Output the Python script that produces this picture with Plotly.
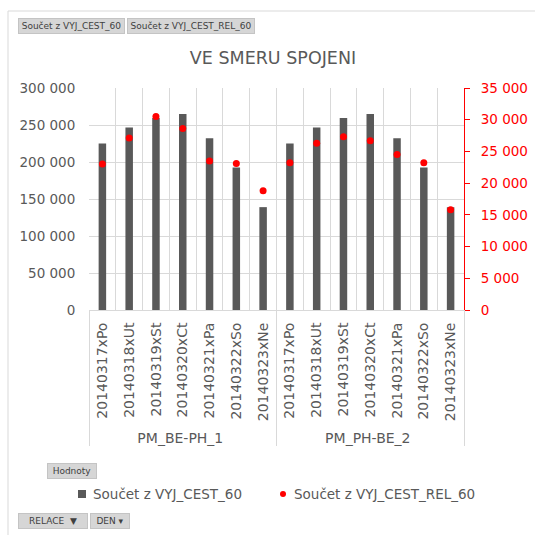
import plotly.graph_objects as go

groups = ["PM_BE-PH_1"] * 7 + ["PM_PH-BE_2"] * 7
days = ["20140317xPo", "20140318xUt", "20140319xSt", "20140320xCt",
        "20140321xPa", "20140322xSo", "20140323xNe"] * 2
cest_60 = [225000, 246500, 259500, 265000, 232000, 192500, 139000,
           225000, 246500, 259500, 265000, 232000, 192500, 139000]
cest_rel_60 = [23000, 27100, 30500, 28600, 23500, 23100, 18800,
               23200, 26300, 27300, 26700, 24500, 23200, 15800]
series_names = ["Součet z VYJ_CEST_60", "Součet z VYJ_CEST_REL_60"]

L, R, T, B = 89, 71, 88, 225
W = H = 535
PW = W - L - R
PH = H - T - B


def px(x):
    return (x - L) / PW


def py(y):
    return (H - B - y) / PH


FONT = "DejaVu Sans, sans-serif"
GRAY = "#595959"
BAR = "#595959"
RED = "#ff0000"

fig = go.Figure()
fig.add_trace(go.Bar(
    x=[groups, days], y=cest_60, name=series_names[0],
    marker=dict(color=BAR, line=dict(width=0)),
))
fig.add_trace(go.Scatter(
    x=[groups, days], y=cest_rel_60, name=series_names[1],
    mode="markers", marker=dict(color=RED, size=7), yaxis="y2",
))

fig.update_layout(
    width=W, height=H,
    margin=dict(l=L, r=R, t=T, b=B, autoexpand=False),
    paper_bgcolor="white", plot_bgcolor="white",
    font=dict(family=FONT, color=GRAY, size=13),
    separators=", ",
    bargap=0.72,
    showlegend=False,
    title=dict(text="VE SMERU SPOJENI", xref="container", x=273 / W,
               xanchor="center", yref="container", y=1 - 58 / H,
               yanchor="middle",
               font=dict(size=17.5, color=GRAY, family=FONT)),
    xaxis=dict(type="multicategory", tickson="boundaries", showgrid=True,
               range=[-0.5, len(days) - 0.5],
               gridcolor="#d9d9d9", gridwidth=1, ticks="", tickangle=-90,
               tickfont=dict(size=14, color=GRAY), showline=True,
               linecolor="#d9d9d9", dividercolor="#d9d9d9", dividerwidth=1,
               ticklabelstandoff=6),
    yaxis=dict(range=[0, 300000], dtick=50000, tickformat=",d",
               showgrid=True, gridcolor="#d9d9d9", zeroline=False,
               tickfont=dict(size=13.5, color=GRAY), ticks="outside",
               ticklen=10, tickcolor="rgba(0,0,0,0)"),
    yaxis2=dict(range=[0, 35000], dtick=5000, tickformat=",d", overlaying="y",
                side="right", showgrid=False, zeroline=False, showline=True,
                linecolor=RED, linewidth=1, ticks="outside", ticklen=5,
                tickcolor=RED, tickfont=dict(size=13.5, color=RED),
                ticklabelstandoff=8),
)

# outer chart border
fig.add_shape(type="rect", xref="paper", yref="paper",
              x0=px(8), y0=py(545), x1=px(545), y1=py(11),
              line=dict(color="#d9d9d9", width=1), fillcolor="rgba(0,0,0,0)",
              layer="below")

# legend (manual, to match the original spacing)
fig.add_shape(type="rect", xref="paper", yref="paper",
              x0=px(78), x1=px(86), y0=py(498), y1=py(490),
              line=dict(width=0), fillcolor=BAR)
fig.add_shape(type="circle", xref="paper", yref="paper",
              x0=px(280), x1=px(286), y0=py(497), y1=py(491),
              line=dict(width=0), fillcolor=RED)
for txt, x0 in [(series_names[0], 91), (series_names[1], 292)]:
    fig.add_annotation(text=txt, x=px(x0), y=py(494), xref="paper",
                       yref="paper", showarrow=False, xanchor="left",
                       yanchor="middle",
                       font=dict(size=13.5, color=GRAY, family=FONT))

buttons = [
    ("Součet z VYJ_CEST_60", 71.5, 26, 103),
    ("Součet z VYJ_CEST_REL_60", 191, 26, 124),
    ("Hodnoty", 72, 471, 46),
    ("RELACE  ▼", 53, 521, 66),
    ("DEN ▾", 110, 521, 36),
]
for txt, cx, cy, bw in buttons:
    fig.add_annotation(text=txt, x=px(cx), y=py(cy), xref="paper", yref="paper",
                       showarrow=False, xanchor="center", yanchor="middle",
                       width=bw, height=12,
                       font=dict(size=9, color="#404040", family=FONT),
                       bgcolor="#d6d6d6", bordercolor="#c4c4c4", borderwidth=1,
                       borderpad=1)

fig.write_html("out.html", config={"displayModeBar": False},
               post_script="document.body.style.margin='0';")
